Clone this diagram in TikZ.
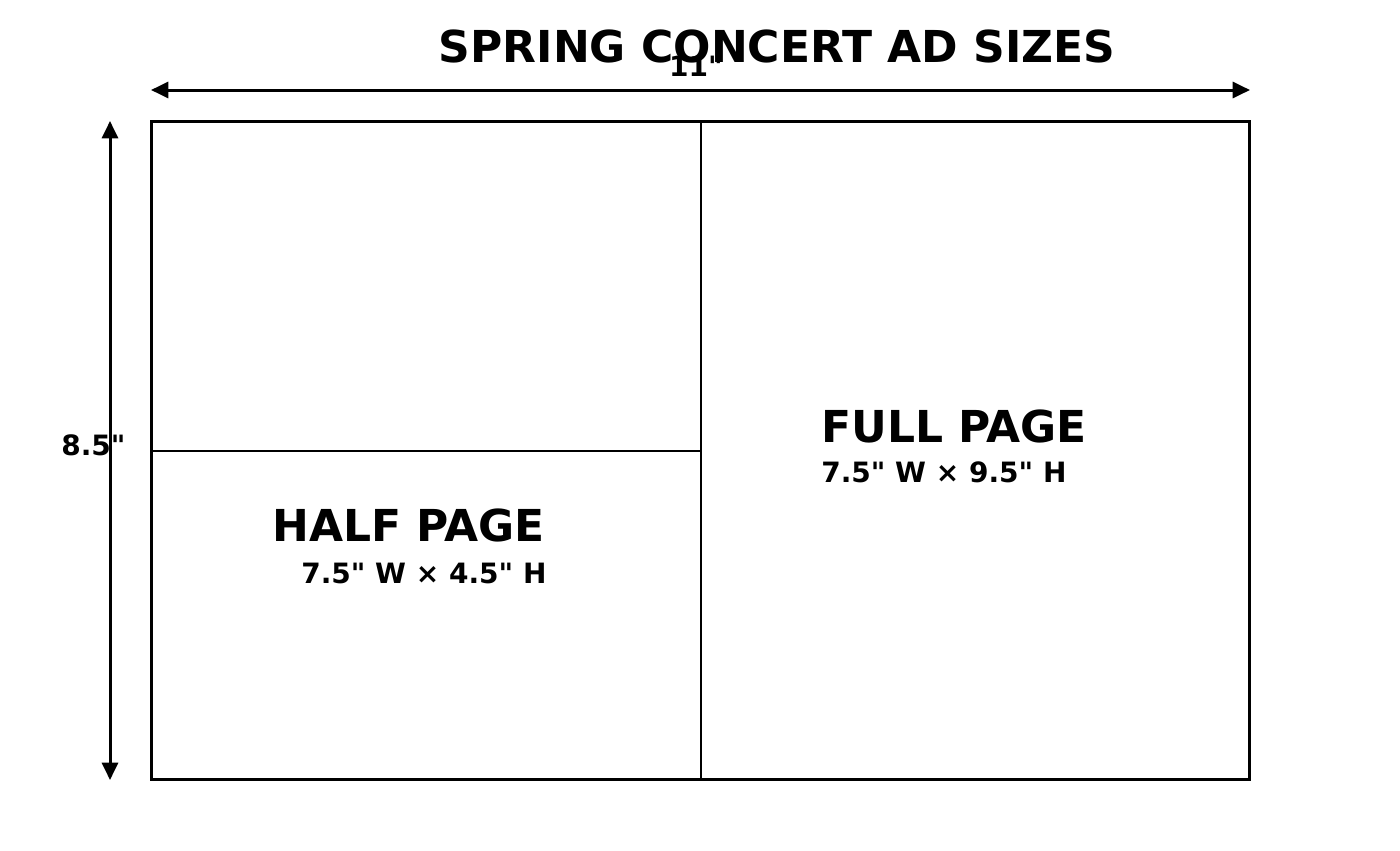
\documentclass[tikz,border=0pt]{standalone}
\usepackage{fontspec}
\setmainfont{DejaVu Sans}[Ligatures=TeXOff]
\usetikzlibrary{arrows.meta,positioning}

\begin{document}
\begin{tikzpicture}[x=0.75pt,y=-0.75pt,>={Triangle[length=13pt,width=12pt]},
  txt/.style={inner sep=0pt,font=\bfseries\fontsize{#1}{#1}\selectfont},
  frame/.style={line width=2.25pt},
  fold/.style={line width=1.5pt}]
  \useasboundingbox (0,0) rectangle (1400,850);
  \coordinate (nw) at (151,121);
  \coordinate (se) at (1249,779);
  \coordinate (mtop) at (701,121);
  \coordinate (mbot) at (701,779);
  \coordinate (hw) at (151,451);
  \coordinate (hm) at (701,451);
  \coordinate (wl) at (151,90);
  \coordinate (wr) at (1250,90);
  \coordinate (ht) at (110,121);
  \coordinate (hb) at (110,780);
  \draw[frame] (nw) rectangle (se);
  \draw[fold] (mtop) -- (mbot);
  \draw[fold] (hw) -- (hm);
  \draw[frame,<->] (wl) -- (wr);
  \draw[frame,<->] (ht) -- (hb);
  \node[txt=33, anchor=base] (title) at (777,62) {SPRING CONCERT AD SIZES};
  \node[txt=21, anchor=base] (widthlbl) at (696,76) {11"};
  \node[txt=21, anchor=base west] (heightlbl) at (61,455) {8.5"};
  \node[txt=33, anchor=base west] (halfname) at (272,541) {HALF PAGE};
  \node[txt=21, anchor=base west] (halfsize) at (301,583) {7.5" W × 4.5" H};
  \node[txt=33, anchor=base west] (fullname) at (821,442) {FULL PAGE};
  \node[txt=21, anchor=base west] (fullsize) at (821,482) {7.5" W × 9.5" H};
\end{tikzpicture}
\end{document}
